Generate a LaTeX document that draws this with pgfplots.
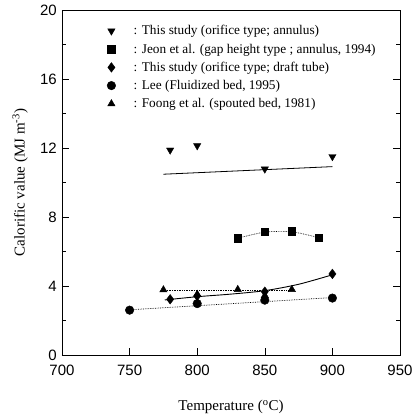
\documentclass[border=0pt]{standalone}
\usepackage{fontspec}
\setmainfont{Liberation Serif}
\newfontfamily\sansf{Liberation Sans}
\usepackage{pgfplots}
\pgfplotsset{compat=1.18}
\begin{document}
\begin{tikzpicture}
\begin{axis}[
  scale only axis, width=338pt, height=345pt,
  xmin=700, xmax=950, ymin=0, ymax=20,
  xtick={700,750,...,950}, ytick={0,4,...,20}, minor ytick={2,6,...,18},
  tick align=inside, major tick length=7pt, minor tick length=4pt,
  xtick pos=bottom,
  tick style={black, line width=0.6pt},
  axis line style={line width=0.8pt},
  /pgf/number format/assume math mode=true,
  ticklabel style={font=\sansf\fontsize{15}{17}\selectfont, inner sep=1pt},
  yticklabel style={xshift=-4pt},
  xticklabel style={yshift=-9pt},
  label style={font=\fontsize{15}{18}\selectfont, inner sep=1pt},
  xlabel={Temperature (\textsuperscript{o}C)},
  ylabel={Calorific value (MJ m\textsuperscript{-3})},
  xlabel style={yshift=-22pt},
  ylabel style={yshift=10pt},
  legend style={at={(0.124,0.967)}, anchor=north west, draw=none, fill=none,
    font=\fontsize{13.3}{15}\selectfont, row sep=3.4pt},
  legend cell align=left,
]
% data series
\addplot[only marks, mark=triangle*, mark size=4.2pt, mark options={rotate=180, fill=black}] coordinates {
 (780,11.88) (800,12.13) (850,10.78) (900,11.5)};
\addlegendentry{\hspace{16pt}: This study (orifice type; annulus)}
\addplot[only marks, mark=square*, mark size=3.8pt, mark options={fill=black}] coordinates {
 (830,6.77) (850,7.15) (870,7.16) (890,6.8)};
\addlegendentry{\hspace{16pt}: Jeon et al. (gap height type ; annulus, 1994)}
\addplot[only marks, mark=diamond*, mark size=4.8pt, mark options={fill=black}] coordinates {
 (780,3.23) (800,3.42) (850,3.67) (900,4.7)};
\addlegendentry{\hspace{16pt}: This study (orifice type; draft tube)}
\addplot[only marks, mark=*, mark size=4.3pt, mark options={fill=black}] coordinates {
 (750,2.6) (800,2.98) (850,3.18) (900,3.3)};
\addlegendentry{\hspace{16pt}: Lee (Fluidized bed, 1995)}
\addplot[only marks, mark=triangle*, mark size=4.2pt, mark options={fill=black}] coordinates {
 (775,3.78) (800,3.52) (830,3.8) (850,3.45) (870,3.8)};
\addlegendentry{\hspace{16pt}: Foong et al. (spouted bed, 1981)}
% fitted curves
\addplot[forget plot, black, line width=0.8pt] coordinates {(775,10.48) (900,10.92)};
\addplot[forget plot, black, densely dotted, line width=0.7pt, smooth] coordinates {
 (830,6.77) (850,7.12) (870,7.14) (890,6.8)};
\addplot[forget plot, black, line width=0.9pt, smooth] coordinates {
 (776,3.19) (800,3.38) (825,3.53) (850,3.73) (875,4.1) (900,4.65)};
\addplot[forget plot, black, densely dotted, line width=0.7pt] coordinates {(750,2.62) (900,3.33)};
\addplot[forget plot, black, densely dotted, line width=0.7pt] coordinates {(775,3.76) (870,3.76)};
\end{axis}
\pgfresetboundingbox
\useasboundingbox ([shift={(-62pt,-62pt)}]current axis.south west) rectangle ([shift={(13pt,10pt)}]current axis.north east);
\end{tikzpicture}
\end{document}
